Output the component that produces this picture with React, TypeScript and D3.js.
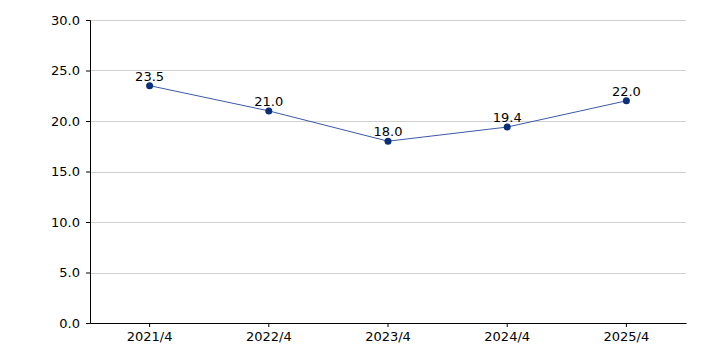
import { useEffect, useRef } from 'react'
import * as d3 from 'd3'

const categories = ['2021/4', '2022/4', '2023/4', '2024/4', '2025/4']
const values = [23.5, 21.0, 18.0, 19.4, 22.0]
const yTicks = [0, 5, 10, 15, 20, 25, 30]

export default function App() {
  const svgRef = useRef<SVGSVGElement>(null)

  useEffect(() => {
    if (!svgRef.current) return
    const svg = d3.select(svgRef.current)
    svg.selectAll('*').remove()

    const W = 706
    const H = 353
    const margin = { top: 20, right: 20, bottom: 30, left: 90 }
    const width = W - margin.left - margin.right
    const height = H - margin.top - margin.bottom
    const font = '"DejaVu Sans", Verdana, sans-serif'

    const g = svg.append('g').attr('transform', `translate(${margin.left},${margin.top})`)

    const x = d3.scaleBand().domain(categories).range([0, width])
    const y = d3.scaleLinear().domain([0, 30]).range([height, 0])

    // grid lines
    g.selectAll('.grid')
      .data(yTicks.filter(t => t > 0))
      .enter().append('line')
      .attr('x1', 0)
      .attr('x2', width)
      .attr('y1', d => Math.round(y(d)) + 0.5)
      .attr('y2', d => Math.round(y(d)) + 0.5)
      .attr('stroke', '#d0d0d0')
      .attr('stroke-width', 1)

    // y axis
    const yAxis = g.append('g')
      .call(d3.axisLeft(y).tickValues(yTicks).tickSize(4).tickPadding(6).tickFormat(d => (d as number).toFixed(1)))
    yAxis.select('.domain').attr('stroke', '#000')
    yAxis.selectAll('text').style('font-family', font).style('font-size', '13px').style('fill', '#000')

    // x axis
    const xAxis = g.append('g')
      .attr('transform', `translate(0,${height})`)
      .call(d3.axisBottom(x).tickSize(4).tickPadding(5).tickSizeOuter(0))
    xAxis.select('.domain').attr('stroke', '#000')
    xAxis.selectAll('text').style('font-family', font).style('font-size', '13px').style('fill', '#000')

    const cx = (c: string) => (x(c) ?? 0) + x.bandwidth() / 2
    const data = categories.map((c, i) => ({ c, v: values[i] }))

    const line = d3.line<{ c: string; v: number }>()
      .x(d => cx(d.c))
      .y(d => y(d.v))

    g.append('path')
      .datum(data)
      .attr('d', line)
      .attr('fill', 'none')
      .attr('stroke', '#3a5aa8')
      .attr('stroke-width', 1)

    g.selectAll('.pt')
      .data(data)
      .enter().append('circle')
      .attr('cx', d => cx(d.c))
      .attr('cy', d => y(d.v))
      .attr('r', 3.5)
      .attr('fill', '#0b2f7a')

    g.selectAll('.lbl')
      .data(data)
      .enter().append('text')
      .attr('x', d => cx(d.c))
      .attr('y', d => y(d.v) - 5)
      .attr('text-anchor', 'middle')
      .style('font-family', font)
      .style('font-size', '13px')
      .style('fill', '#000')
      .text(d => d.v.toFixed(1))
  }, [])

  return (
    <svg
      ref={svgRef}
      width={706}
      height={353}
      style={{ position: 'absolute', top: 0, left: 0, background: '#fff' }}
    />
  )
}
